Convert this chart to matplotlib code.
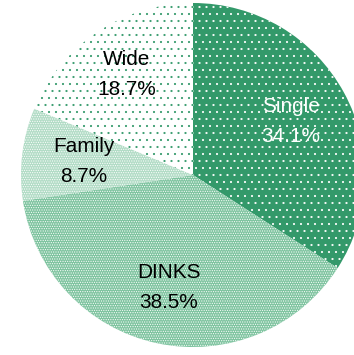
import matplotlib
matplotlib.use("Agg")
import numpy as np
import matplotlib.pyplot as plt

# household type shares (%), clockwise from 12 o'clock
categories = ["Single", "DINKS", "Family", "Wide"]
shares = [34.1, 38.5, 8.7, 18.7]

green = "#33996a"
face_colors = [green, "#7fc4a0", "#b2dcc6", "white"]
hatch_colors = ["white", "white", "white", green]
hatches = ["..", "......", "......", ".."]
text_colors = ["white", "black", "black", "black"]
label_radius = [0.65, 0.67, 0.64, 0.70]

plt.rcParams["font.family"] = ["Liberation Sans", "DejaVu Sans"]
plt.rcParams["hatch.linewidth"] = 0.6

dpi = 84
fig = plt.figure(figsize=(354 / dpi, 355 / dpi), dpi=dpi)
cx, cy, r = 193, 175, 172
ax = fig.add_axes([(cx - r) / 354, (355 - cy - r) / 355, 2 * r / 354, 2 * r / 355])

wedges, _ = ax.pie(shares, startangle=90, counterclock=False, radius=1.0,
                   colors=face_colors, wedgeprops=dict(linewidth=0))
for w, ec, h in zip(wedges, hatch_colors, hatches):
    w.set_edgecolor(ec)
    w.set_linewidth(0)
    w.set_hatch(h)

for w, name, val, tc, lr in zip(wedges, categories, shares, text_colors, label_radius):
    mid = np.deg2rad((w.theta1 + w.theta2) / 2)
    x, y = lr * np.cos(mid), lr * np.sin(mid)
    ax.text(x, y, f"{name}\n{val}%", ha="center", va="center",
            color=tc, fontsize=17.8, linespacing=1.75)

ax.set_aspect("auto")
ax.set_xlim(-1, 1)
ax.set_ylim(-1, 1)
ax.axis("off")

fig.savefig("out.png", dpi=dpi)
